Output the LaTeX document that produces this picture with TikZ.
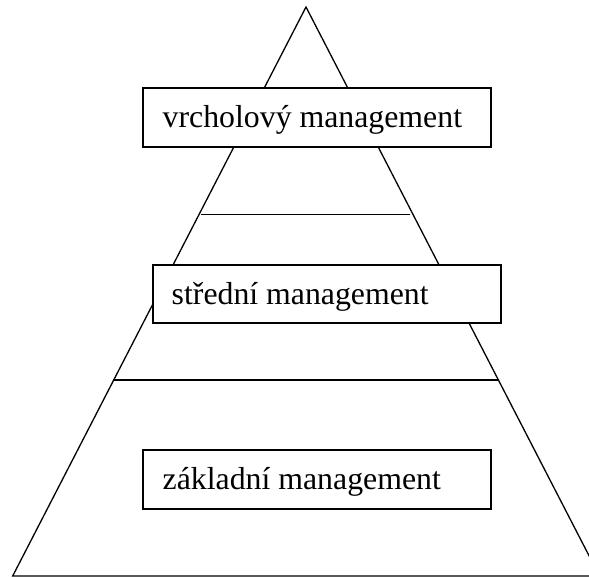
\documentclass[tikz,border=0pt]{standalone}
\usepackage{fontspec}
\setmainfont{Liberation Serif}
\begin{document}
\begin{tikzpicture}[x=1pt,y=-1pt,
  edge/.style={line width=1.3pt,black},
  levelbox/.style={draw=black,line width=2pt,fill=white,rectangle,inner sep=0pt},
  leveltext/.style={anchor=base west,inner sep=0pt,font=\fontsize{31.8}{38}\selectfont}]
\useasboundingbox (0,0) rectangle (589,577);
\clip (0,0) rectangle (589,577);
% pyramid outline
\coordinate (apex) at (306,7);
\coordinate (bl) at (12.7,576);
\coordinate (br) at (599.5,576);
\draw[edge,line join=miter] (bl) -- (apex) -- (br) -- cycle;
% dividing lines
\coordinate (l1a) at (201,214.3);
\coordinate (l1b) at (410,214.3);
\coordinate (l2a) at (113.3,380);
\coordinate (l2b) at (498.3,380);
\draw[edge] (l1a) -- (l1b);
\draw[edge] (l2a) -- (l2b);
% boxes
\node[levelbox,minimum width=348pt,minimum height=58.4pt,anchor=north west] (top) at (142,87.4) {};
\node[levelbox,minimum width=348.3pt,minimum height=58.4pt,anchor=north west] (mid) at (151.7,264) {};
\node[levelbox,minimum width=348.6pt,minimum height=58.7pt,anchor=north west] (bot) at (141.6,449) {};
% texts
\node[leveltext] (ttop) at (162.5,127.3) {vrcholový management};
\node[leveltext] (tmid) at (171.5,304.6) {střední management};
\node[leveltext] (tbot) at (162.5,489) {základní management};
\end{tikzpicture}
\end{document}
